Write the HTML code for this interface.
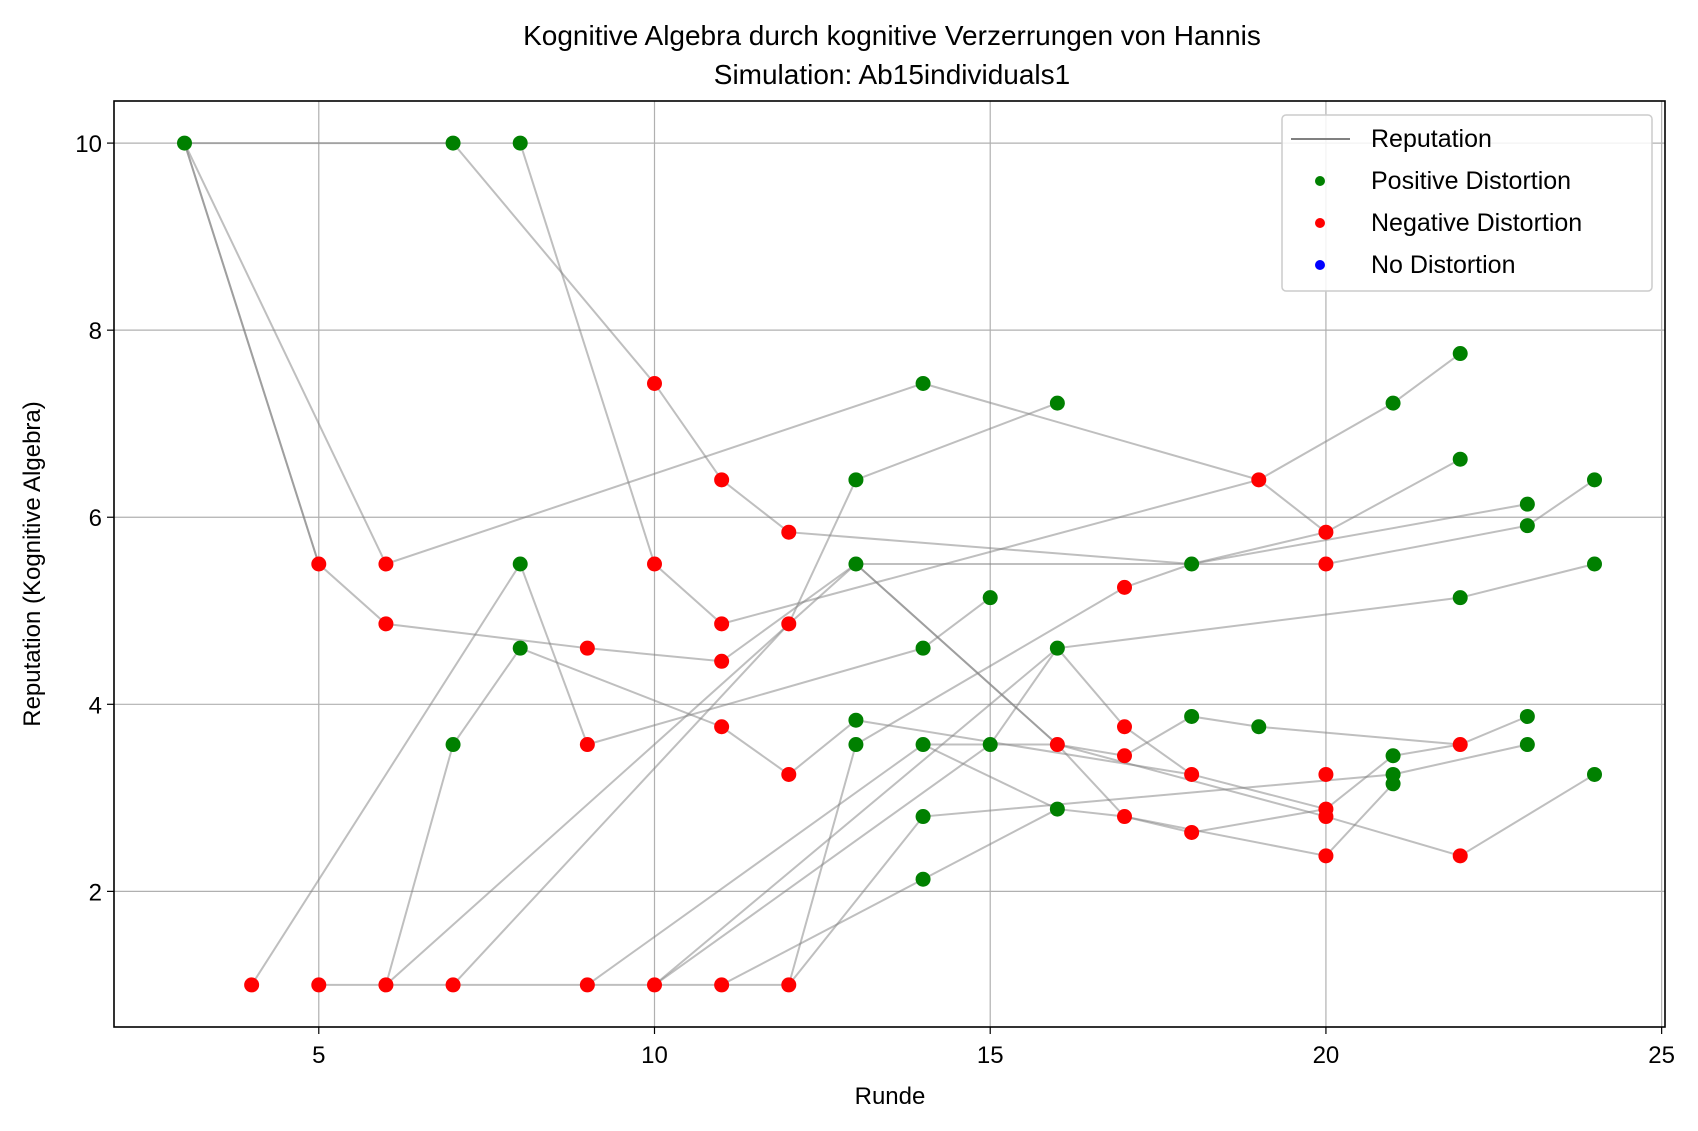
<!DOCTYPE html>
<html><head><meta charset="utf-8"><style>
html,body{margin:0;padding:0;background:#fff;}
svg{display:block;font-family:"Liberation Sans","DejaVu Sans",sans-serif;}
</style></head><body>
<svg id="chart" width="1698" height="1131" viewBox="0 0 1698 1131" xmlns="http://www.w3.org/2000/svg">
<rect width="1698" height="1131" fill="#fff"/>
<text x="892" y="45" font-size="28" text-anchor="middle">Kognitive Algebra durch kognitive Verzerrungen von Hannis</text>
<text x="892" y="84" font-size="28" text-anchor="middle">Simulation: Ab15individuals1</text>
<g id="grid"></g><g id="lines"></g><g id="pts"></g><g id="ticks"></g>
<rect x="114" y="101" width="1551" height="926" fill="none" stroke="#000" stroke-width="1.6"/>
<text x="890" y="1104" font-size="24" text-anchor="middle">Runde</text>
<text x="40" y="564" font-size="24" text-anchor="middle" transform="rotate(-90 40 564)">Reputation (Kognitive Algebra)</text>
<g transform="translate(-6,0)">
<rect x="1288" y="115" width="370" height="176" rx="4" fill="#fff" fill-opacity="0.85" stroke="#ccc" stroke-width="1.5"/>
<line x1="1297" y1="139" x2="1356" y2="139" stroke="#808080" stroke-width="2"/>
<text x="1377" y="147" font-size="25">Reputation</text>
<circle cx="1326" cy="181" r="5" fill="green"/>
<text x="1377" y="189" font-size="25">Positive Distortion</text>
<circle cx="1326" cy="223" r="5" fill="red"/>
<text x="1377" y="231" font-size="25">Negative Distortion</text>
<circle cx="1326" cy="265" r="5" fill="blue"/>
<text x="1377" y="273" font-size="25">No Distortion</text>
</g>
</svg>
<script>
const xTicks=[5,10,15,20,25];
const yTicks=[2,4,6,8,10];
const trajectories=[
[[3,10],[5,5.5],[6,4.86],[9,4.6],[11,4.46],[13,5.5],[20,5.5],[23,5.91],[24,6.4]],
[[3,10],[6,5.5],[14,7.43],[19,6.4],[20,5.84],[22,6.62]],
[[3,10],[7,10],[10,7.43],[11,6.4],[12,5.84],[18,5.5],[23,6.14]],
[[8,10],[10,5.5],[11,4.86],[19,6.4],[21,7.22],[22,7.75]],
[[3,10],[5,5.5]],
[[4,1],[8,5.5],[9,3.57],[14,4.6],[15,5.14]],
[[5,1],[6,1],[7,1],[9,1],[10,1],[11,1],[12,1]],
[[6,1],[7,3.57],[8,4.6],[11,3.76],[12,3.25],[13,3.83],[18,3.25],[20,2.88],[21,3.45],[22,3.57],[23,3.87]],
[[6,1],[13,5.5],[16,3.57],[17,3.45],[18,3.87],[19,3.76],[22,3.57]],
[[7,1],[12,4.86],[13,6.4],[16,7.22]],
[[9,1],[14,3.57],[16,2.88],[17,2.8],[18,2.63],[20,2.88]],
[[10,1],[15,3.57],[16,4.6],[17,3.76],[18,3.25]],
[[11,1],[14,2.13],[16,2.88]],
[[12,1],[13,3.57],[17,5.25],[18,5.5],[20,5.84]],
[[12,1],[14,2.8],[21,3.25],[23,3.57]],
[[10,1],[16,4.6],[22,5.14],[24,5.5]],
[[14,3.57],[16,3.57],[17,2.8],[20,2.38],[21,3.15]],
[[13,5.5],[16,3.57],[20,2.8],[22,2.38],[24,3.25]]
];
const posX=[3,7,8,14,16,22,21,22,23,23,24,24,13,13,8,15,18,22,14,8,16,7,13,13,14,15,18,19,23,23,21,21,21,24,14,16,14];
const posY=[10,10,10,7.43,7.22,7.75,7.22,6.62,6.14,5.91,6.4,5.5,6.4,5.5,5.5,5.14,5.5,5.14,4.6,4.6,4.6,3.57,3.83,3.57,3.57,3.57,3.87,3.76,3.87,3.57,3.45,3.25,3.15,3.25,2.8,2.88,2.13];
const negX=[10,11,19,12,20,5,6,10,20,17,6,11,12,9,11,9,11,17,16,17,12,18,20,22,20,20,17,18,20,22,4,5,6,7,9,10,11,12];
const negY=[7.43,6.4,6.4,5.84,5.84,5.5,5.5,5.5,5.5,5.25,4.86,4.86,4.86,4.6,4.46,3.57,3.76,3.76,3.57,3.45,3.25,3.25,3.25,3.57,2.88,2.8,2.8,2.63,2.38,2.38,1,1,1,1,1,1,1,1];
const X0=114,X1=1665,Y0=101,Y1=1027,xmin=1.95,xmax=25.05,ymin=0.55,ymax=10.45;
const sx=v=>X0+(v-xmin)/(xmax-xmin)*(X1-X0);
const sy=v=>Y1-(v-ymin)/(ymax-ymin)*(Y1-Y0);
const NS='http://www.w3.org/2000/svg';
function mk(tag,attrs,parent){const e=document.createElementNS(NS,tag);for(const k in attrs)e.setAttribute(k,attrs[k]);document.getElementById(parent).appendChild(e);return e;}
xTicks.forEach(t=>{
 const g=mk('line',{x1:sx(t),x2:sx(t),y1:Y0,y2:Y1,stroke:'#b0b0b0','stroke-width':1.2},'grid');
 
 
 mk('line',{x1:sx(t),x2:sx(t),y1:Y1,y2:Y1+7,stroke:'#000','stroke-width':1.2},'ticks');
 const l=mk('text',{x:sx(t),y:Y1+36,'font-size':24,'text-anchor':'middle'},'ticks');
 l.textContent=t;
 
 
});
yTicks.forEach(t=>{
 const g=mk('line',{x1:X0,x2:X1,y1:sy(t),y2:sy(t),stroke:'#b0b0b0','stroke-width':1.2},'grid');
 
 
 mk('line',{x1:X0-7,x2:X0,y1:sy(t),y2:sy(t),stroke:'#000','stroke-width':1.2},'ticks');
 const l=mk('text',{x:X0-12,y:sy(t)+9,'font-size':24,'text-anchor':'end'},'ticks');
 l.textContent=t;
 
 
});
trajectories.forEach(tr=>{
 const p=mk('polyline',{points:tr.map(q=>sx(q[0])+','+sy(q[1])).join(' '),fill:'none',stroke:'#808080','stroke-opacity':0.5,'stroke-width':2},'lines');
 
 
});
posX.forEach((x,i)=>{
 const c=mk('circle',{cx:sx(x),cy:sy(posY[i]),r:7.5,fill:'green'},'pts');
 
 
});
negX.forEach((x,i)=>{
 const c=mk('circle',{cx:sx(x),cy:sy(negY[i]),r:7.5,fill:'red'},'pts');
 
 
});
</script>
</body></html>
